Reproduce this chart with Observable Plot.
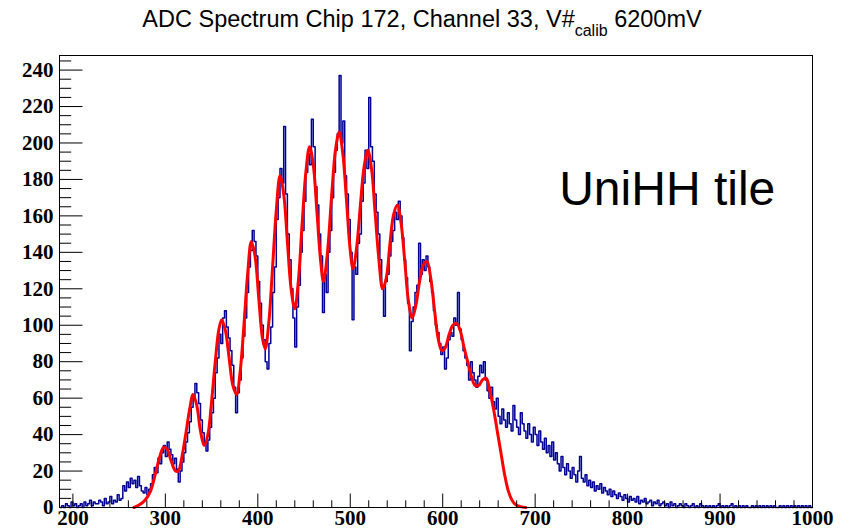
<!DOCTYPE html>
<html>
<head>
<meta charset="utf-8">
<script src="https://cdn.jsdelivr.net/npm/d3@7"></script>
<script src="https://cdn.jsdelivr.net/npm/@observablehq/plot@0.6"></script>
<style>
  html, body { margin: 0; padding: 0; background: #fff; }
  #chart svg { display: block; }
</style>
</head>
<body>
<div id="chart"></div>
<script>
// ---- Data ----
const titleMain = "ADC Spectrum Chip 172, Channel 33, V#";
const titleSub = "calib";
const titleEnd = " 6200mV";
const annotation = "UniHH tile";

const binStart = 186;   // first bin lower edge (ADC)
const binWidth = 2;     // ADC units per bin
const counts = [
  0,1,0,2,1,0,3,1,2,0,            // 186..204
  1,2,0,3,1,2,4,1,3,2,            // 206..224
  2,4,3,1,5,2,3,6,2,4,            // 226..244
  3,7,4,5,12,9,14,11,16,13,       // 246..264
  15,11,17,12,9,8,11,7,10,13,     // 266..284
  18,22,19,27,24,30,34,28,36,32,  // 286..304
  29,24,27,21,14,20,25,30,36,41,  // 306..324
  47,55,60,68,63,57,48,41,35,31,  // 326..344
  37,44,52,60,74,82,95,90,104,108,      // 346..364
  99,93,86,78,66,52,63,70,82,94,        // 366..384
  104,118,132,141,152,146,138,124,112,100, // 386..404
  92,80,76,90,99,118,132,158,170,186,   // 406..424
  178,209,172,150,136,120,104,88,110,122, // 426..444
  140,152,168,184,194,188,213,198,176,166, // 446..464
  150,138,107,128,118,140,152,170,184,196, // 466..484
  205,237,200,212,182,172,158,140,103,132, // 486..504
  128,145,150,168,178,196,186,225,198,190, // 506..524
  172,162,150,136,120,105,124,128,138,146, // 526..544
  152,162,158,168,160,148,136,126,112,86,  // 546..564
  102,110,118,122,145,128,136,130,138,132, // 566..584
  124,118,108,100,96,90,84,88,76,82,       // 586..604
  92,96,94,104,100,118,98,92,86,82,        // 606..624
  78,70,80,74,70,66,72,78,74,80,           // 626..644
  70,64,60,66,58,54,60,50,46,54,           // 646..664
  48,44,52,46,42,56,48,44,40,52,           // 666..684
  46,42,38,46,40,36,44,40,34,42,           // 686..704
  36,32,38,30,34,28,36,26,30,24,           // 706..724
  20,28,22,18,24,20,16,22,18,14,           // 726..744
  20,28,16,14,18,12,15,11,14,9,            // 746..764
  12,10,13,8,11,9,7,10,6,9,                // 766..784
  7,5,8,6,4,7,5,3,6,4,                     // 786..804
  5,3,6,2,4,3,5,2,3,4,                     // 806..824
  1,3,2,4,1,2,3,1,2,0,                     // 826..844
  3,1,2,0,1,2,1,0,2,1,                     // 846..864
  0,1,2,0,1,0,2,1,0,1,                     // 866..884
  0,1,0,1,0,1,2,0,1,0,                     // 886..904
  1,0,1,2,0,1,0,1,0,1,                     // 906..924
  0,1,0,0,1,0,1,0,1,0,                     // 926..944
  1,0,1,0,1,0,1,0,0,1,                     // 946..964
  0,1,0,1,0,1,0,1,0,1,                     // 966..984
  0,1,0,1,0,1,0                            // 986..998
];

// Fitted multi-peak curve, read at points along the red line
const fitX = [266,272,278,284,289,294,298,302,306,311,314,318,322,326,330,334,338,342,346,350,
  354,358,361,365,369,373,377,381,385,389,393,397,401,405,408,412,416,420,424,428,
  432,436,440,444,448,452,456,460,464,468,471,475,480,484,488,492,496,500,503,507,
  511,515,519,523,527,531,535,539,543,547,551,555,559,563,567,571,575,579,583,587,
  591,595,599,603,607,611,615,619,623,627,631,635,639,643,647,651,655,659,663,667,
  671,675,679,684,690];
const fitY = [0,1.5,4,9,18,28,33,32,26,20,20,28,40,53,62,56,42,34,40,58,
  80,98,103,97,82,67,62,75,100,128,146,138,115,93,87,102,132,163,182,172,
  146,120,109,125,156,184,198,188,162,135,124,138,172,196,206,194,168,141,131,143,
  166,187,196,186,161,136,120,126,145,161,166,156,135,113,104,111,124,133,135,126,
  109,93,86,88,95,100,101,97,88,80,72,67,67,70,71,64,54,42,30,18,
  9,4,1.5,0.5,0];

const xMajor = [200,300,400,500,600,700,800,900,1000];
const xMinor = d3.range(200, 1001, 20);
const yMajor = [0,20,40,60,80,100,120,140,160,180,200,220,240];
const yMinor = d3.range(0, 246, 5);

// ---- Build ----
const hist = counts.map((c, i) => ({x: binStart + i * binWidth, y: c}));
hist.push({x: binStart + counts.length * binWidth, y: counts[counts.length - 1]});
const fit = fitX.map((x, i) => ({x, y: fitY[i]}));

const tickShape = {draw(context, l) { context.moveTo(0, 0); context.lineTo(0, -l); }};
const labelFont = {fontFamily: "Liberation Serif", fontSize: 21, fontWeight: "bold"};

const chart = Plot.plot({
  width: 846,
  height: 529,
  marginLeft: 59,
  marginRight: 34,
  marginTop: 55,
  marginBottom: 22,
  style: {background: "#fff", color: "#000", overflow: "visible"},
  x: {domain: [185.5, 1000]},
  y: {domain: [0, 248]},
  marks: [
    Plot.line(hist, {x: "x", y: "y", curve: "step-after", stroke: "#000099", strokeWidth: 1.5}),
    Plot.line(fit, {x: "x", y: "y", curve: "catmull-rom", stroke: "#ff0000", strokeWidth: 3}),
    Plot.vector(xMajor, {x: d => d, frameAnchor: "bottom", length: 13.5, rotate: 0, anchor: "start", shape: tickShape, stroke: "#000", strokeWidth: 1}),
    Plot.vector(xMinor.filter(d => !xMajor.includes(d)), {x: d => d, frameAnchor: "bottom", length: 6.8, rotate: 0, anchor: "start", shape: tickShape, stroke: "#000", strokeWidth: 1}),
    Plot.vector(yMajor, {y: d => d, frameAnchor: "left", length: 22.6, rotate: 90, anchor: "start", shape: tickShape, stroke: "#000", strokeWidth: 1}),
    Plot.vector(yMinor.filter(d => !yMajor.includes(d)), {y: d => d, frameAnchor: "left", length: 11.3, rotate: 90, anchor: "start", shape: tickShape, stroke: "#000", strokeWidth: 1}),
    Plot.axisX({ticks: xMajor, tickSize: 0, tickPadding: 3, tickFormat: d => String(d), label: null, ...labelFont}),
    Plot.axisY({ticks: yMajor, tickSize: 0, tickPadding: 6, tickFormat: d => String(d), label: null, ...labelFont}),
    Plot.frame({stroke: "#000", strokeWidth: 1}),
    Plot.text([annotation], {x: 726, y: 174.5, text: d => d, textAnchor: "start", lineAnchor: "middle", fontFamily: "Liberation Sans", fontSize: 48, fill: "#000"})
  ]
});

const svg = d3.select(chart);
const t = svg.append("text")
  .attr("x", 422).attr("y", 27)
  .attr("text-anchor", "middle")
  .style("font-family", "Liberation Sans")
  .style("font-size", "23.5px")
  .style("white-space", "pre")
  .attr("fill", "#000");
t.append("tspan").text(titleMain);
t.append("tspan").attr("dy", 9).style("font-size", "16px").text(titleSub);
t.append("tspan").attr("dy", -9).text(titleEnd);

document.getElementById("chart").appendChild(chart);
</script>
</body>
</html>
